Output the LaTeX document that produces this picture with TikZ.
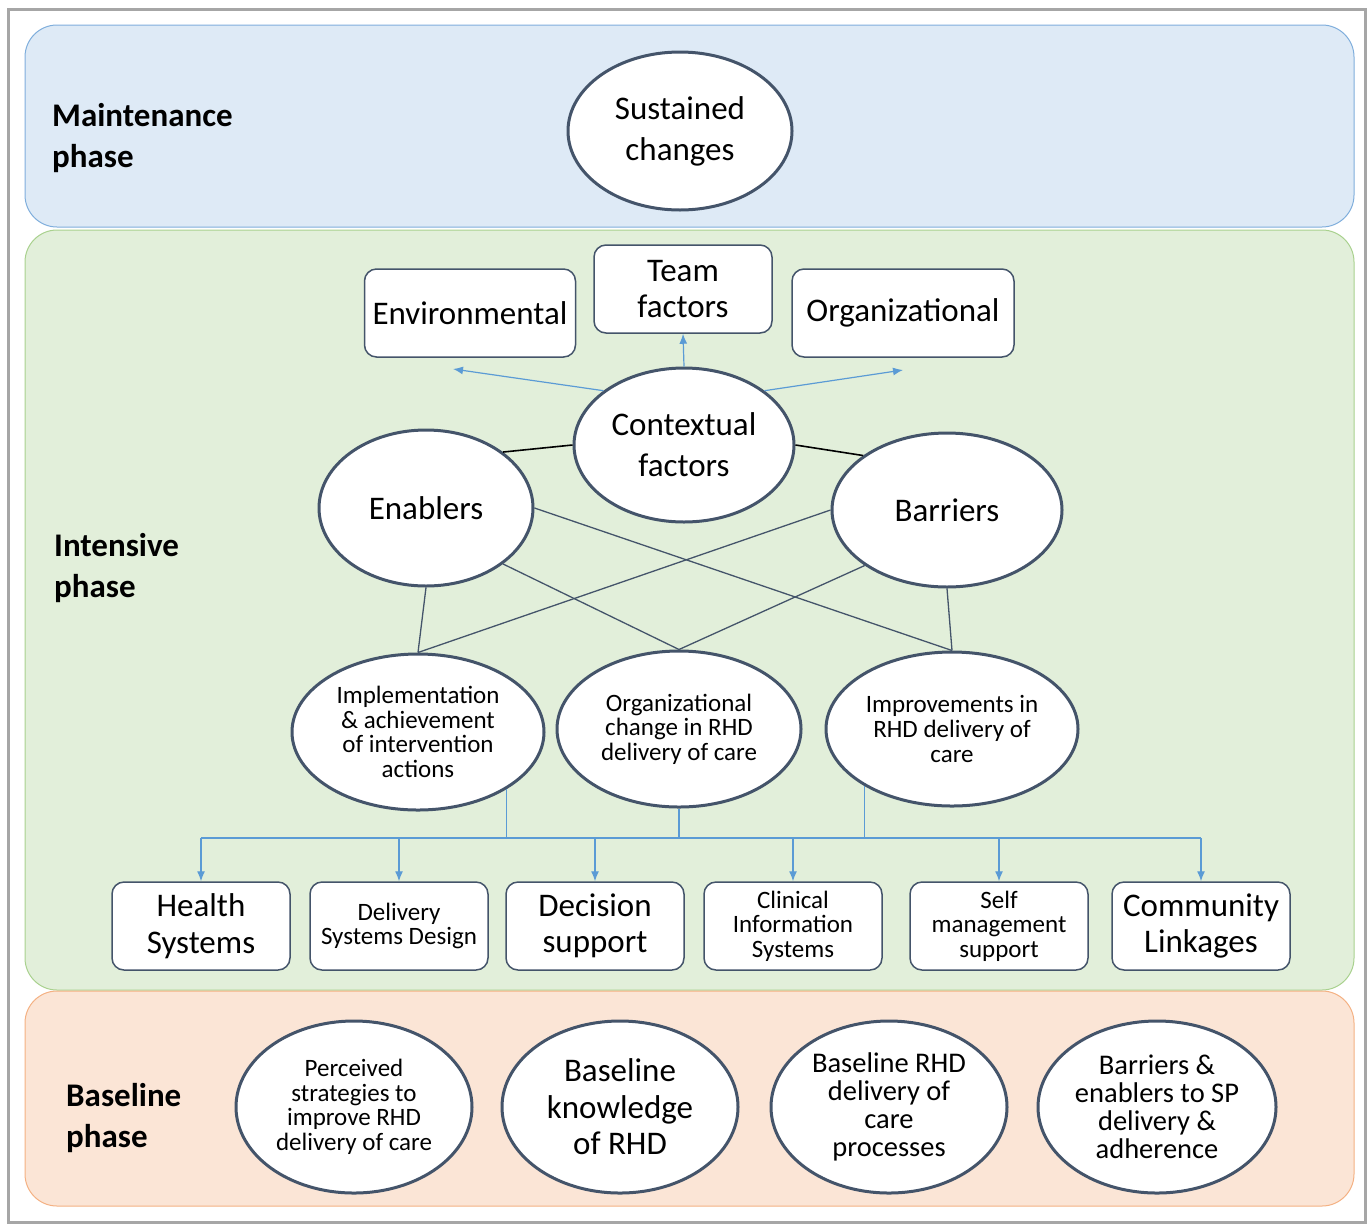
\documentclass[tikz,border=0pt]{standalone}
\usepackage{fontspec}
\setmainfont{Carlito}
\usetikzlibrary{shapes.geometric,arrows.meta}
\definecolor{slate}{HTML}{44546A}
\definecolor{feedblue}{HTML}{5B9BD5}
\definecolor{maintfill}{HTML}{DEEAF6}
\definecolor{maintline}{HTML}{7FAEDC}
\definecolor{intfill}{HTML}{E2EFDA}
\definecolor{intline}{HTML}{A9D18E}
\definecolor{basefill}{HTML}{FBE5D6}
\definecolor{baseline}{HTML}{F4B183}
\newcommand{\fsL}{\fontsize{33}{41}\selectfont}
\newcommand{\fsLt}{\fontsize{33}{36.5}\selectfont}
\newcommand{\fsM}{\fontsize{28.5}{28}\selectfont}
\newcommand{\fsS}{\fontsize{25}{24.6}\selectfont}
\tikzstyle{bubble}=[ellipse,draw=slate,fill=white,line width=3pt,
                    inner sep=0pt,align=center]
\tikzstyle{factor}=[rectangle,rounded corners=12pt,draw=slate,fill=white,
                    line width=1.5pt,inner sep=0pt,align=center]
\tikzstyle{phaselabel}=[anchor=west,align=left,inner sep=0pt,font=\bfseries\fsL]
\tikzstyle{link}=[draw=slate,line width=1.3pt]
\tikzstyle{tie}=[draw=black,line width=1.6pt]
\tikzstyle{feed}=[draw=feedblue,line width=1.2pt]
\tikzstyle{feedarrow}=[feed,-{Latex[length=10pt,width=8pt]}]
\begin{document}
\begin{tikzpicture}[x=1pt,y=-1pt]
    \newcommand{\bw}{178pt}
    \newcommand{\bh}{88pt}
    \useasboundingbox (0,0) rectangle (1372,1224);
    \draw[draw=gray!70,line width=3pt] (8,9) rectangle (1365,1222);
    \draw[rounded corners=32pt,draw=maintline,fill=maintfill,line width=1pt]
        (25,25) rectangle (1354,227);
    \draw[rounded corners=32pt,draw=intline,fill=intfill,line width=1pt]
        (25,230) rectangle (1354,990);
    \draw[rounded corners=32pt,draw=baseline,fill=basefill,line width=1pt]
        (25,991) rectangle (1354,1206);

    \node (maint) at (52,138) [phaselabel]{Maintenance\\phase};
    \node (inten) at (54,568) [phaselabel]{Intensive\\phase};
    \node (basel) at (66,1118) [phaselabel]{Baseline\\phase};

    \node (sustain) at (680,131) [bubble,minimum width=224pt,minimum height=158pt,
        font=\fsL]{Sustained\\changes};

    \node (environ) at (470,313) [factor,minimum width=211pt,minimum height=88pt,
        font=\fsL]{Environmental};
    \node (team) at (683,289) [factor,minimum width=178pt,minimum height=88pt,
        font=\fsLt]{Team\\factors};
    \node (organiz) at (903,313) [factor,minimum width=222pt,minimum height=88pt,
        font=\fsL]{Organizational};

    \node (context) at (684,445) [bubble,minimum width=220pt,minimum height=154pt,
        font=\fsL]{Contextual\\factors};
    \node (enabler) at (426,508) [bubble,minimum width=214pt,minimum height=156pt,
        font=\fsL]{Enablers};
    \node (barrier) at (947,510) [bubble,minimum width=230pt,minimum height=154pt,
        font=\fsL]{Barriers};

    \node (implement) at (418,732) [bubble,minimum width=252pt,minimum height=156pt,
        font=\fsS]{Implementation\\\& achievement\\of intervention\\actions};
    \node (orgchange) at (679,729) [bubble,minimum width=244pt,minimum height=156pt,
        font=\fsS]{Organizational\\change in RHD\\delivery of care};
    \node (improve) at (952,729) [bubble,minimum width=252pt,minimum height=154pt,
        font=\fsS]{Improvements in\\RHD delivery of\\care};

    \node (health) at (201,926) [factor,minimum width=\bw,minimum height=\bh,
        font=\fsLt]{Health\\Systems};
    \node (delivery) at (399,926) [factor,minimum width=\bw,minimum height=\bh,
        font=\fsS]{Delivery\\Systems Design};
    \node (decision) at (595,926) [factor,minimum width=\bw,minimum height=\bh,
        font=\fsLt]{Decision\\support};
    \node (clinical) at (793,926) [factor,minimum width=\bw,minimum height=\bh,
        font=\fsS]{Clinical\\Information\\Systems};
    \node (selfmgmt) at (999,926) [factor,minimum width=\bw,minimum height=\bh,
        font=\fsS]{Self\\management\\support};
    \node (community) at (1201,926) [factor,minimum width=\bw,minimum height=\bh,
        font=\fsLt]{Community\\Linkages};

    \node (perceived) at (354,1107) [bubble,minimum width=236pt,minimum height=172pt,
        font=\fsS]{Perceived\\strategies to\\improve RHD\\delivery of care};
    \node (knowledge) at (620,1107) [bubble,minimum width=236pt,minimum height=172pt,
        font=\fsLt]{Baseline\\knowledge\\of RHD};
    \node (process) at (889,1107) [bubble,minimum width=236pt,minimum height=172pt,
        font=\fsM]{Baseline RHD\\delivery of\\care\\processes};
    \node (adherence) at (1157,1107) [bubble,minimum width=238pt,minimum height=172pt,
        font=\fsM]{Barriers \&\\enablers to SP\\delivery \&\\adherence};

    \coordinate (envtip) at (453,369);
    \coordinate (orgtip) at (903,370);
    \coordinate (busL) at (201,838);
    \coordinate (busR) at (1201,838);

    \draw[feedarrow] (context.north) -- (team.south);
    \draw[feedarrow] (context.146) -- (envtip);
    \draw[feedarrow] (context.34) -- (orgtip);

    \draw[tie] (enabler.36) -- (context.180);
    \draw[tie] (barrier.147) -- (context.0);

    \draw[link] (enabler.south) -- (implement.north);
    \draw[link] (enabler.324) -- (orgchange.north);
    \draw[link] (enabler.0) -- (improve.north);
    \draw[link] (barrier.180) -- (implement.north);
    \draw[link] (barrier.214) -- (orgchange.north);
    \draw[link] (barrier.south) -- (improve.north);

    \draw[feed] (implement.327) -- (implement.327 |- busL);
    \draw[feed] (orgchange.south) -- (orgchange.south |- busL);
    \draw[feed] (improve.213) -- (improve.213 |- busL);
    \draw[feed] (busL) -- (busR);
    \draw[feedarrow] (busL) -- (health.north);
    \draw[feedarrow] (delivery.north |- busL) -- (delivery.north);
    \draw[feedarrow] (decision.north |- busL) -- (decision.north);
    \draw[feedarrow] (clinical.north |- busL) -- (clinical.north);
    \draw[feedarrow] (selfmgmt.north |- busL) -- (selfmgmt.north);
    \draw[feedarrow] (busR) -- (community.north);
\end{tikzpicture}
\end{document}
